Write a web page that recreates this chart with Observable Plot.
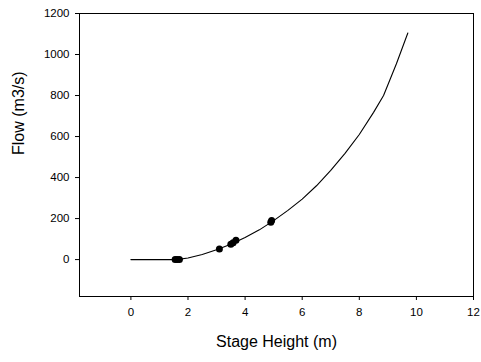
<!DOCTYPE html>
<html>
<head>
<meta charset="utf-8">
<script src="https://cdn.jsdelivr.net/npm/d3@7"></script>
<script src="https://cdn.jsdelivr.net/npm/@observablehq/plot@0.6"></script>
<style>
  html, body { margin: 0; padding: 0; background: #fff; }
  #chart svg { display: block; font-family: "Liberation Sans", Arial, sans-serif; }
</style>
</head>
<body>
<div id="chart"></div>
<script>
// Rating curve: stage height (m) vs flow (m3/s)
const curveStage = [0, 1.6, 2.0, 2.5, 3.0, 3.5, 4.0, 4.5, 5.0, 5.5, 6.0, 6.5, 7.0, 7.5, 8.0, 8.5, 8.85, 9.3, 9.7];
const curveFlow  = [0, 0,   8,   25,  48,  75,  108, 145, 190, 240, 295, 360, 435, 518, 610, 718, 800,  955, 1105];

// Measured gaugings
const obsStage = [1.55, 1.62, 1.70, 3.10, 3.50, 3.58, 3.68, 4.90, 4.93];
const obsFlow  = [0,    0,    0,    52,   75,   82,   94,   182,  190];

const xTicks = [0, 2, 4, 6, 8, 10, 12];
const yTicks = [0, 200, 400, 600, 800, 1000, 1200];

const curve = curveStage.map((h, i) => ({h, q: curveFlow[i]}));
const obs = obsStage.map((h, i) => ({h, q: obsFlow[i]}));

const chart = Plot.plot({
  width: 481,
  height: 362,
  marginLeft: 79,
  marginRight: 8,
  marginTop: 13,
  marginBottom: 66,
  style: {fontFamily: "Liberation Sans, Arial, sans-serif", color: "#000", background: "#fff"},
  x: {domain: [-1.8, 12], label: null},
  y: {domain: [-180, 1200], label: null},
  marks: [
    Plot.frame({stroke: "#000", strokeWidth: 1}),
    Plot.axisX({ticks: xTicks, tickFormat: d3.format("d"), tickSize: 4, tickPadding: 7, fontSize: 11.5, label: null}),
    Plot.axisY({ticks: yTicks, tickFormat: d3.format("d"), tickSize: 4, tickPadding: 6, fontSize: 11.5, label: null}),
    Plot.line(curve, {x: "h", y: "q", stroke: "#000", strokeWidth: 1.1}),
    Plot.dot(obs, {x: "h", y: "q", r: 3.5, fill: "#000", stroke: "none"}),
    Plot.text(["Stage Height (m)"], {frameAnchor: "bottom", dy: 50, fontSize: 16, fill: "#000"}),
    Plot.text(["Flow (m3/s)"], {frameAnchor: "left", dx: -61, rotate: -90, fontSize: 16, fill: "#000"})
  ]
});
document.getElementById("chart").appendChild(chart);
</script>
</body>
</html>
